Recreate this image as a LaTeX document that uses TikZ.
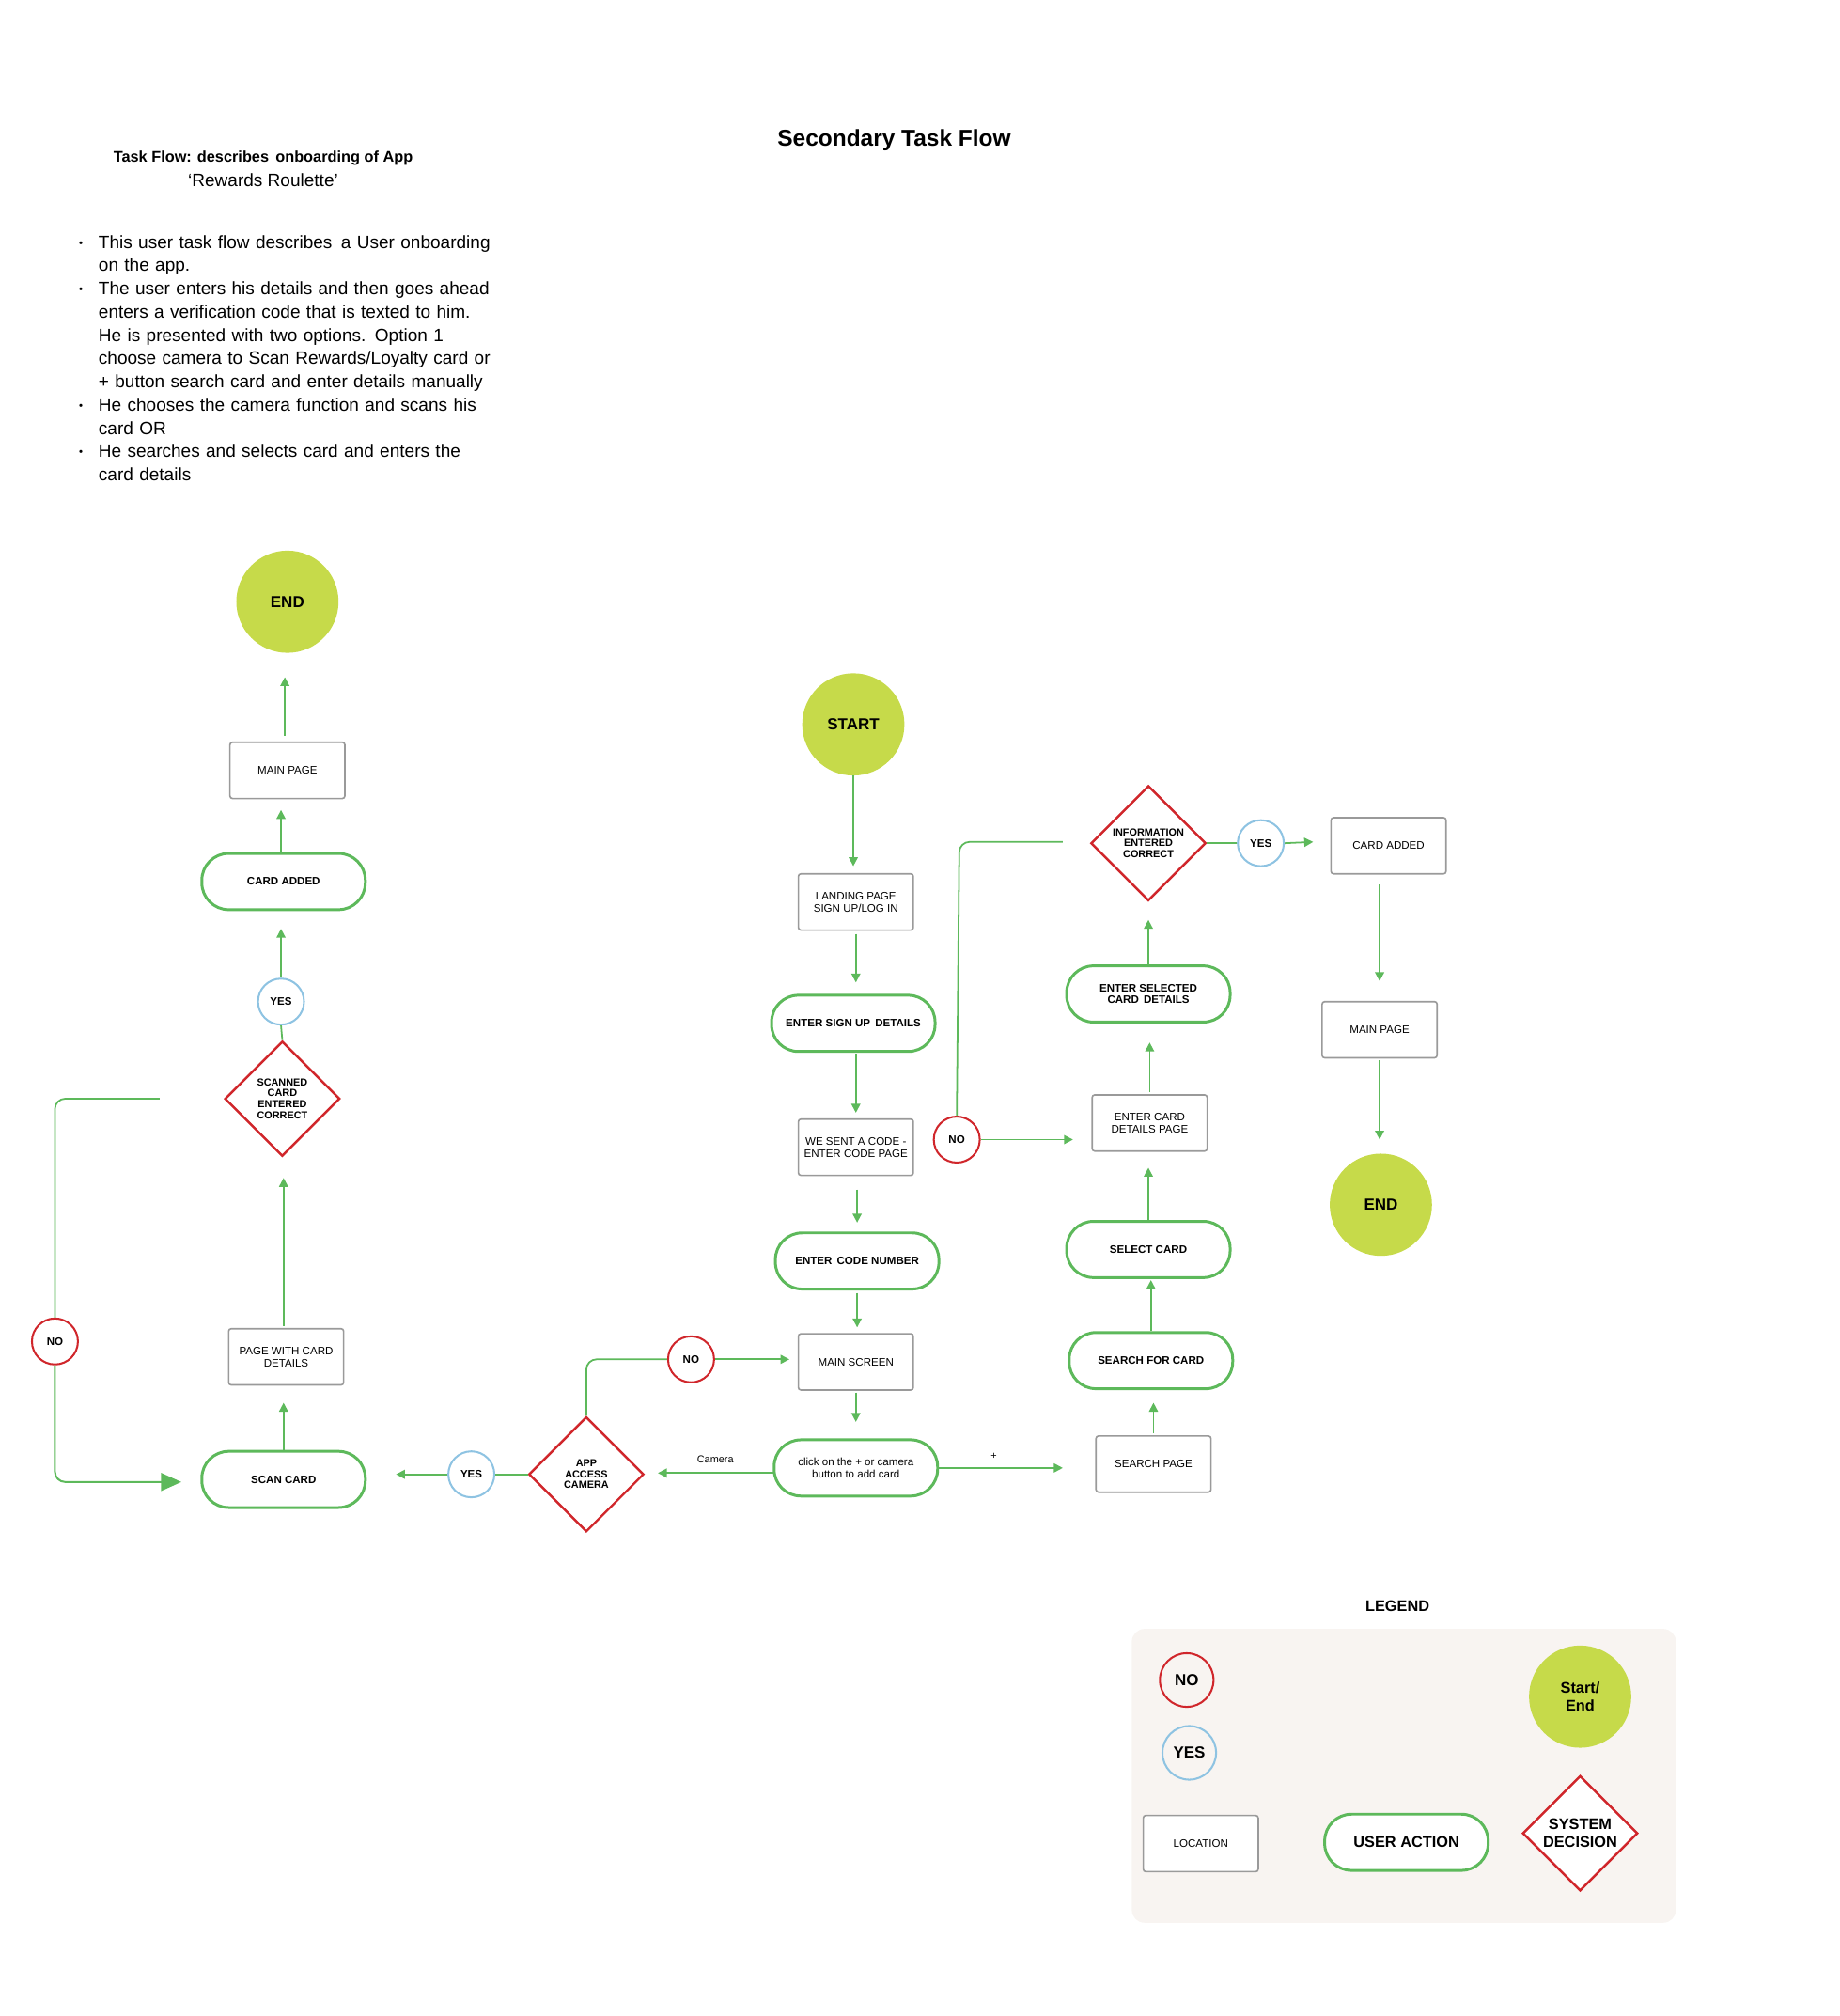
\documentclass[tikz,border=0pt]{standalone}
\usepackage{fontspec}
\setmainfont{Liberation Sans}
\usetikzlibrary{shapes.geometric,arrows.meta}
\definecolor{gr}{HTML}{5DB95B}
\definecolor{rd}{HTML}{D0262B}
\definecolor{bl}{HTML}{8EC3E2}
\definecolor{lm}{HTML}{C6DA4A}
\definecolor{gy}{HTML}{9A9A9A}
\definecolor{lg}{HTML}{F8F4F1}
\begin{document}
\begin{tikzpicture}[x=1pt,y=-1pt,
 loc/.style={draw=gy,line width=1.2,rounded corners=2,minimum width=90,minimum height=44,align=center,font=\fontsize{8.5}{9.5}\selectfont},
 act/.style={draw=gr,line width=2.2,rounded corners=21,minimum width=128,minimum height=44,align=center,font=\bfseries\fontsize{8.5}{9.5}\selectfont},
 no/.style={circle,draw=rd,line width=1.5,minimum size=36,inner sep=0,font=\bfseries\fontsize{8.5}{9.5}\selectfont},
 yes/.style={circle,draw=bl,line width=1.5,minimum size=36,inner sep=0,font=\bfseries\fontsize{8.5}{9.5}\selectfont},
 se/.style={circle,fill=lm,minimum size=80,inner sep=0,font=\bfseries\fontsize{12.5}{14}\selectfont},
 dec/.style={diamond,draw=rd,fill=white,line width=1.8,minimum size=90,inner sep=0,align=center,font=\bfseries\fontsize{8}{8.5}\selectfont},
 ar/.style={draw=gr,line width=1.3,-{Triangle[length=7,width=7]}},
 ln/.style={draw=gr,line width=1.3},
 lbl/.style={font=\fontsize{8}{9}\selectfont}]
\useasboundingbox (0,0) rectangle (1440,1578);
\node[font=\bfseries\fontsize{18}{20}\selectfont] (title) at (700,110) {Secondary Task Flow};
\node[font=\bfseries\fontsize{12}{13}\selectfont] (h1) at (206,124) {Task Flow: describes\, onboarding of App};
\node[font=\fontsize{14}{15}\selectfont] (h2) at (206,141) {‘Rewards Roulette’};
\node[anchor=north west,text width=335,font=\fontsize{14}{18.2}\selectfont,inner sep=0] (txt) at (52,168) {%
\begin{itemize}\setlength{\itemsep}{0pt}\setlength{\parskip}{0pt}\setlength{\leftmargin}{19pt}\setlength{\labelsep}{12pt}
\item[\raisebox{3pt}{\tiny$\bullet$}] This user task flow describes\, a User onboarding on the app.
\item[\raisebox{3pt}{\tiny$\bullet$}] The user enters his details and then goes ahead\, enters a verification code that is texted to him. He is presented with two options. Option 1 choose camera to Scan Rewards/Loyalty card or + button search card and enter details manually
\item[\raisebox{3pt}{\tiny$\bullet$}] He chooses the camera function and scans his card OR
\item[\raisebox{3pt}{\tiny$\bullet$}] He searches and selects card and enters the card details
\end{itemize}};
% left column
\node[se] (end1) at (225,471) {END};
\node[loc] (mp1) at (225,603) {MAIN PAGE};
\node[act] (ca1) at (222,690) {CARD ADDED};
\node[yes] (y1) at (220,784) {YES};
\node[dec] (sc) at (221,860) {SCANNED\\CARD\\ENTERED\\CORRECT};
\node[loc] (pw) at (224,1062) {PAGE WITH CARD\\DETAILS};
\node[act] (scan) at (222,1158) {SCAN CARD};
\node[no] (n1) at (43,1050) {NO};
\node[yes] (y2) at (369,1154) {YES};
\node[dec] (aac) at (459,1154) {APP\\ACCESS\\CAMERA};
\node[no] (n2) at (541,1064) {NO};
% middle
\node[se] (start) at (668,567) {START};
\node[loc] (land) at (670,706) {LANDING PAGE\\SIGN UP/LOG IN};
\node[act] (sign) at (668,801) {ENTER SIGN UP\, DETAILS};
\node[loc] (sent) at (670,898) {WE SENT A CODE -\\ENTER CODE PAGE};
\node[act] (code) at (671,987) {ENTER\, CODE NUMBER};
\node[loc] (ms) at (670,1066) {MAIN SCREEN};
\node[act] (click) at (670,1149) {\fontseries{m}\selectfont click on the + or camera\\ \fontseries{m}\selectfont button to add card};
\node[no] (n3) at (749,892) {NO};
% right
\node[loc] (sp) at (903,1146) {SEARCH PAGE};
\node[act] (sfc) at (901,1065) {SEARCH FOR CARD};
\node[act] (sel) at (899,978) {SELECT CARD};
\node[loc] (ecd) at (900,879) {ENTER CARD\\DETAILS PAGE};
\node[act] (esc) at (899,778) {ENTER SELECTED\\CARD\, DETAILS};
\node[dec] (info) at (899,660) {INFORMATION\\ENTERED\\CORRECT};
\node[yes] (y3) at (987,660) {YES};
\node[loc] (ca2) at (1087,662) {CARD ADDED};
\node[loc] (mp2) at (1080,806) {MAIN PAGE};
\node[se] (end2) at (1081,943) {END};
% connectors
\draw[ar] (223,576) -- (223,530);
\draw[ar] (220,668) -- (220,634);
\draw[ar] (y1.north) -- (220,727);
\draw[ln] (sc.north) -- (y1.south);
\draw[ar] (222,1038) -- (222,922);
\draw[ar] (scan.north) -- (222,1098);
\coordinate (nl) at (125,860);
\draw[ln,rounded corners=8] (nl) -- (43,860) -- (n1.north);
\coordinate (nr) at (142,1160);
\draw[draw=gr,line width=1.5,rounded corners=8,-{Triangle[length=16,width=14]}] (n1.south) -- (43,1160) -- (nr);
\draw[ln] (aac.west) -- (y2.east);
\draw[ar] (y2.west) -- (310,1154);
\draw[ar] (606,1153) -- (515,1153);
\node[lbl] (cam) at (560,1142) {Camera};
\draw[ln,rounded corners=8] (aac.north) -- (459,1064) -- (n2.west);
\draw[ar] (n2.east) -- (618,1064);
\draw[ar] (670,1090) -- (670,1113);
\draw[ar] (click.east) -- (832,1149);
\node[lbl] (plus) at (778,1140) {+};
\draw[ar] (903,1122) -- (903,1098);
\draw[ar] (901,1042) -- (901,1002);
\draw[ar] (899,955) -- (899,914);
\draw[ar] (900,855) -- (900,816);
\draw[ar] (899,756) -- (899,720);
\draw[ln] (info.east) -- (y3.west);
\draw[ar] (y3.east) -- (1028,659);
\draw[ar] (1080,692) -- (1080,768);
\draw[ar] (1080,830) -- (1080,892);
\draw[ar] (start.south) -- (668,678);
\draw[ar] (670,731) -- (670,769);
\draw[ar] (670,825) -- (670,871);
\draw[ar] (671,931) -- (671,957);
\draw[ar] (671,1012) -- (671,1039);
\coordinate (ni) at (832,659);
\draw[ln,rounded corners=8] (ni) -- (751,659) -- (n3.north);
\draw[ar] (n3.east) -- (840,892);
% legend
\node[font=\bfseries\fontsize{12}{13}\selectfont] (lt) at (1094,1257) {LEGEND};
\fill[lg,rounded corners=10] (886,1275) rectangle (1312,1505);
\node[no,minimum size=42,font=\bfseries\fontsize{12.5}{14}\selectfont] (ln1) at (929,1315) {NO};
\node[yes,minimum size=42,font=\bfseries\fontsize{12.5}{14}\selectfont] (ly) at (931,1372) {YES};
\node[se,align=center,font=\bfseries\fontsize{12}{14}\selectfont] (lse) at (1237,1328) {Start/\\End};
\node[loc,fill=white] (lloc) at (940,1443) {LOCATION};
\node[act,fill=white,font=\bfseries\fontsize{12}{14}\selectfont] (lact) at (1101,1442) {USER ACTION};
\node[dec,font=\bfseries\fontsize{12}{14}\selectfont] (ldec) at (1237,1435) {SYSTEM\\DECISION};
\end{tikzpicture}
\end{document}
